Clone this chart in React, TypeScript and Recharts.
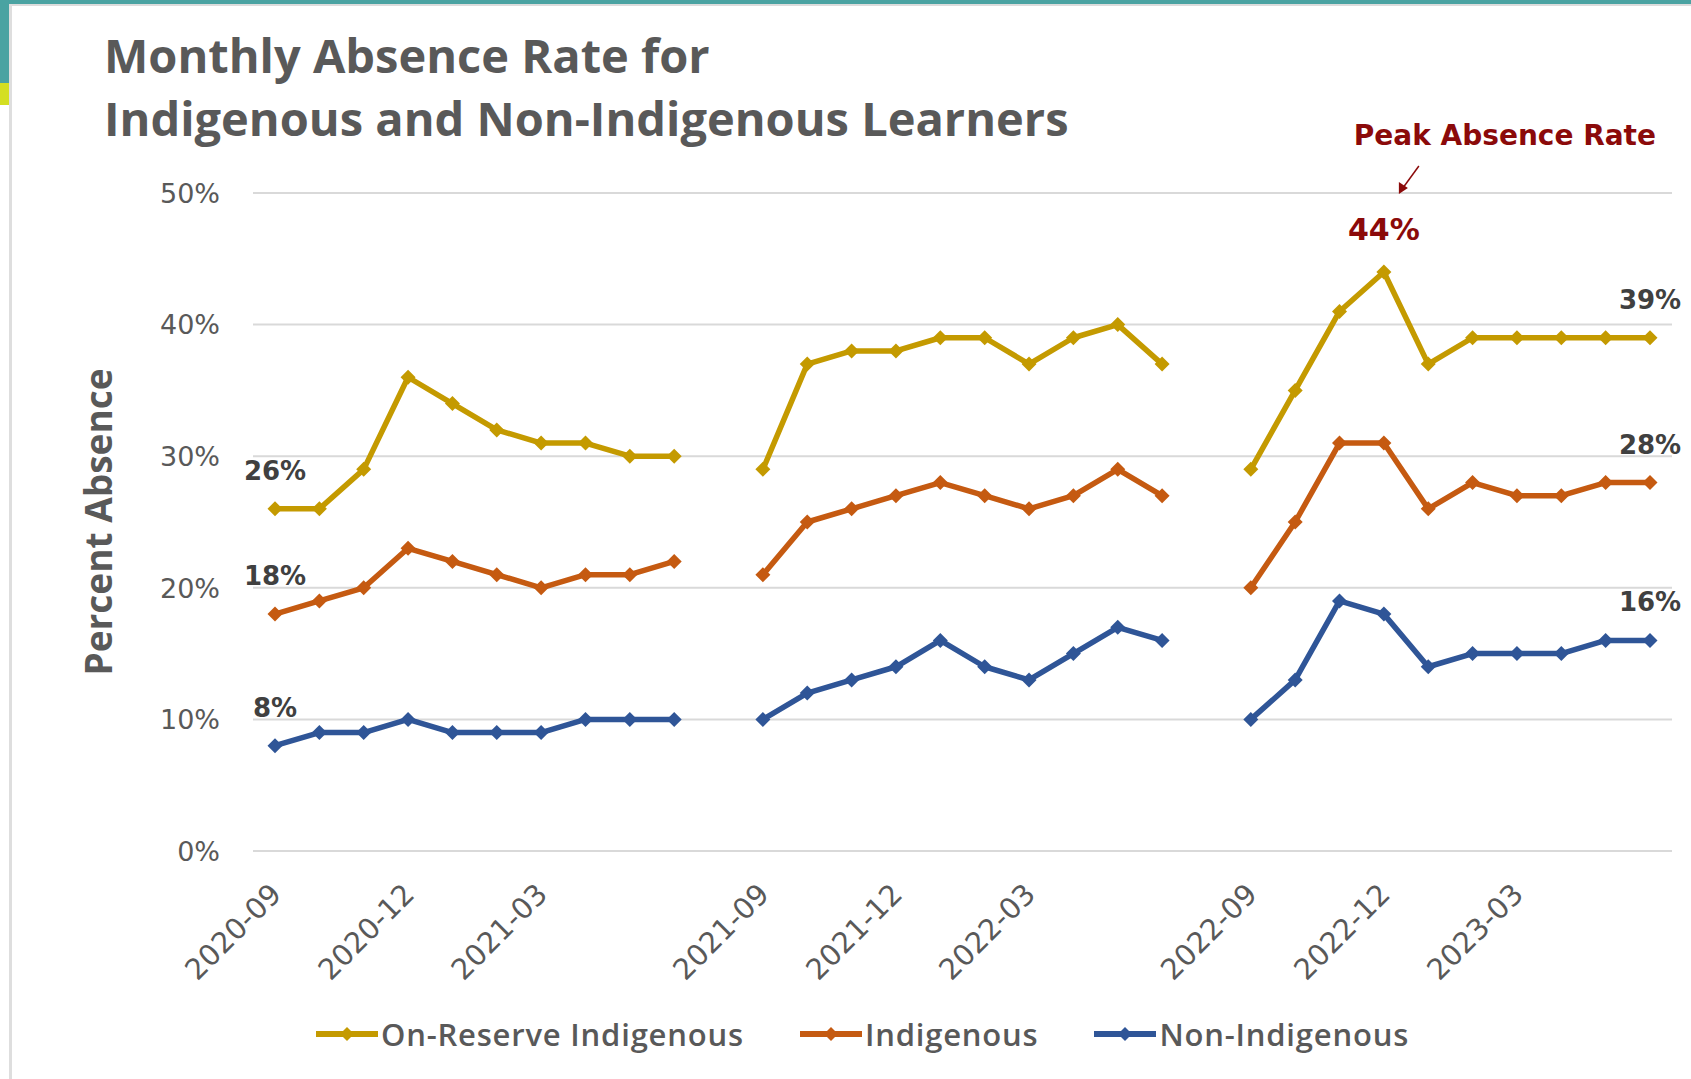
import { LineChart, Line, XAxis, YAxis, CartesianGrid, Legend, LabelList } from 'recharts';

// months with one empty slot for each summer break
const MONTHS = [
  '2020-09', '2020-10', '2020-11', '2020-12', '2021-01', '2021-02', '2021-03', '2021-04', '2021-05', '2021-06',
  '',
  '2021-09', '2021-10', '2021-11', '2021-12', '2022-01', '2022-02', '2022-03', '2022-04', '2022-05', '2022-06',
  ' ',
  '2022-09', '2022-10', '2022-11', '2022-12', '2023-01', '2023-02', '2023-03', '2023-04', '2023-05', '2023-06',
];

const TICK_LABELS = ['2020-09', '2020-12', '2021-03', '2021-09', '2021-12', '2022-03', '2022-09', '2022-12', '2023-03'];

const ON_RESERVE = [
  26, 26, 29, 36, 34, 32, 31, 31, 30, 30,
  null,
  29, 37, 38, 38, 39, 39, 37, 39, 40, 37,
  null,
  29, 35, 41, 44, 37, 39, 39, 39, 39, 39,
];
const INDIGENOUS = [
  18, 19, 20, 23, 22, 21, 20, 21, 21, 22,
  null,
  21, 25, 26, 27, 28, 27, 26, 27, 29, 27,
  null,
  20, 25, 31, 31, 26, 28, 27, 27, 28, 28,
];
const NON_INDIGENOUS = [
  8, 9, 9, 10, 9, 9, 9, 10, 10, 10,
  null,
  10, 12, 13, 14, 16, 14, 13, 15, 17, 16,
  null,
  10, 13, 19, 18, 14, 15, 15, 15, 16, 16,
];

const Y_TICKS = [0, 10, 20, 30, 40, 50];

const SERIES = [
  { key: 'onReserve', name: 'On-Reserve Indigenous', color: '#C49A00' },
  { key: 'indigenous', name: 'Indigenous', color: '#C55A11' },
  { key: 'nonIndigenous', name: 'Non-Indigenous', color: '#2F5597' },
];

const data = MONTHS.map((m, i) => ({
  month: m,
  onReserve: ON_RESERVE[i],
  indigenous: INDIGENOUS[i],
  nonIndigenous: NON_INDIGENOUS[i],
}));

const PEAK_INDEX = ON_RESERVE.indexOf(Math.max(...ON_RESERVE.filter((v) => v != null) as number[]));
const LAST = MONTHS.length - 1;
const DARK_RED = '#8B0A0A';
const NUM_FONT = '"DejaVu Sans", sans-serif';
const TEXT_FONT = '"Open Sans", sans-serif';

const diamond = (color: string) => (props: any) => {
  const { cx, cy, index } = props;
  if (cx == null || cy == null || props.value == null) return <g key={index} />;
  const r = 7.5;
  return (
    <path
      key={index}
      d={`M${cx},${cy - r} L${cx + r},${cy} L${cx},${cy + r} L${cx - r},${cy} Z`}
      fill={color}
    />
  );
};

const endLabel = (withPeak: boolean) => (props: any) => {
  const { x, y, index, value } = props;
  if (value == null) return null;
  if (withPeak && index === PEAK_INDEX) {
    return (
      <g>
        <text x={x} y={y - 32} textAnchor="middle" fontFamily={NUM_FONT} fontWeight="bold" fontSize={30} fill={DARK_RED}>
          {value}%
        </text>
        <line x1={x + 35} y1={y - 106} x2={x + 19} y2={y - 84} stroke={DARK_RED} strokeWidth={1.5} />
        <path d={`M${x + 15},${y - 78} L${x + 15},${y - 90} L${x + 24},${y - 84} Z`} fill={DARK_RED} />
        <text x={x + 121} y={y - 127} textAnchor="middle" fontFamily={NUM_FONT} fontWeight="bold" fontSize={28} fill={DARK_RED}>
          Peak Absence Rate
        </text>
      </g>
    );
  }
  if (index !== 0 && index !== LAST) return null;
  return (
    <text x={x} y={y - 29} textAnchor="middle" fontFamily={NUM_FONT} fontWeight="bold" fontSize={26} fill="#404040">
      {value}%
    </text>
  );
};

const XTick = (props: any) => {
  const { x, y, payload } = props;
  if (!TICK_LABELS.includes(payload.value)) return null;
  const ax = x + 8;
  const ay = y + 37;
  return (
    <text
      x={ax}
      y={ay}
      textAnchor="end"
      transform={`rotate(-45, ${ax}, ${ay})`}
      fontFamily={NUM_FONT}
      fontSize={29}
      fill="#595959"
    >
      {payload.value}
    </text>
  );
};

const YTick = (props: any) => {
  const { y, payload } = props;
  return (
    <text x={220} y={y} dy="0.36em" textAnchor="end" fontFamily={NUM_FONT} fontSize={27} fill="#595959">
      {payload.value}%
    </text>
  );
};

const LegendContent = () => (
  <div style={{ display: 'flex', alignItems: 'center', gap: 56 }}>
    {SERIES.map((s) => (
      <div key={s.key} style={{ display: 'flex', alignItems: 'center' }}>
        <svg width={62} height={20}>
          <line x1={1} y1={10} x2={61} y2={10} stroke={s.color} strokeWidth={6} strokeLinecap="round" />
          <path d="M31,3 L38,10 L31,17 L24,10 Z" fill={s.color} />
        </svg>
        <span
          style={{
            fontFamily: TEXT_FONT,
            fontWeight: 600,
            fontSize: 31,
            letterSpacing: 0.8,
            color: '#595959',
            marginLeft: 3,
          }}
        >
          {s.name}
        </span>
      </div>
    ))}
  </div>
);

export default function App() {
  return (
    <div style={{ position: 'fixed', left: 0, top: 0, width: 1691, height: 1079, background: '#fff', overflow: 'hidden' }}>
      {/* slide frame */}
      <div style={{ position: 'absolute', left: 0, top: 0, width: 1691, height: 4, background: '#4AA3A2' }} />
      <div style={{ position: 'absolute', left: 9, top: 4, width: 1682, height: 2, background: '#dcdcdc' }} />
      <div style={{ position: 'absolute', left: 0, top: 0, width: 9, height: 83, background: '#4AA3A2' }} />
      <div style={{ position: 'absolute', left: 0, top: 83, width: 9, height: 22, background: '#D4DF22' }} />
      <div style={{ position: 'absolute', left: 9, top: 4, width: 3, height: 1075, background: '#dedede' }} />

      <div
        style={{
          position: 'absolute',
          left: 104,
          top: 24,
          fontFamily: TEXT_FONT,
          fontWeight: 700,
          fontSize: 47,
          lineHeight: '63px',
          color: '#595959',
          letterSpacing: 0,
          whiteSpace: 'nowrap',
        }}
      >
        Monthly Absence Rate for
        <br />
        Indigenous and Non-Indigenous Learners
      </div>

      <div
        style={{
          position: 'absolute',
          left: 97,
          top: 522,
          transform: 'translate(-50%, -50%) rotate(-90deg)',
          fontFamily: TEXT_FONT,
          fontWeight: 700,
          fontSize: 37,
          color: '#595959',
          whiteSpace: 'nowrap',
        }}
      >
        Percent Absence
      </div>

      <LineChart
        width={1691}
        height={1079}
        data={data}
        margin={{ top: 193, right: 19, bottom: 128, left: 113 }}
        style={{ position: 'absolute', left: 0, top: 0 }}
      >
        <CartesianGrid vertical={false} stroke="#d9d9d9" strokeWidth={2} />
        <XAxis
          dataKey="month"
          interval={0}
          axisLine={false}
          tickLine={false}
          height={100}
          padding={{ left: 22, right: 22 }}
          tick={<XTick />}
        />
        <YAxis
          domain={[0, 50]}
          ticks={Y_TICKS}
          axisLine={false}
          tickLine={false}
          width={140}
          tick={<YTick />}
        />
        <Legend
          layout="horizontal"
          verticalAlign="middle"
          align="center"
          content={<LegendContent />}
          wrapperStyle={{ left: 316, top: 1013, width: 'auto' }}
        />
        {SERIES.map((s, i) => (
          <Line
            key={s.key}
            dataKey={s.key}
            name={s.name}
            stroke={s.color}
            strokeWidth={5.5}
            strokeLinejoin="round"
            dot={diamond(s.color)}
            activeDot={false}
            isAnimationActive={false}
          >
            <LabelList dataKey={s.key} content={endLabel(i === 0)} />
          </Line>
        ))}
      </LineChart>
    </div>
  );
}
